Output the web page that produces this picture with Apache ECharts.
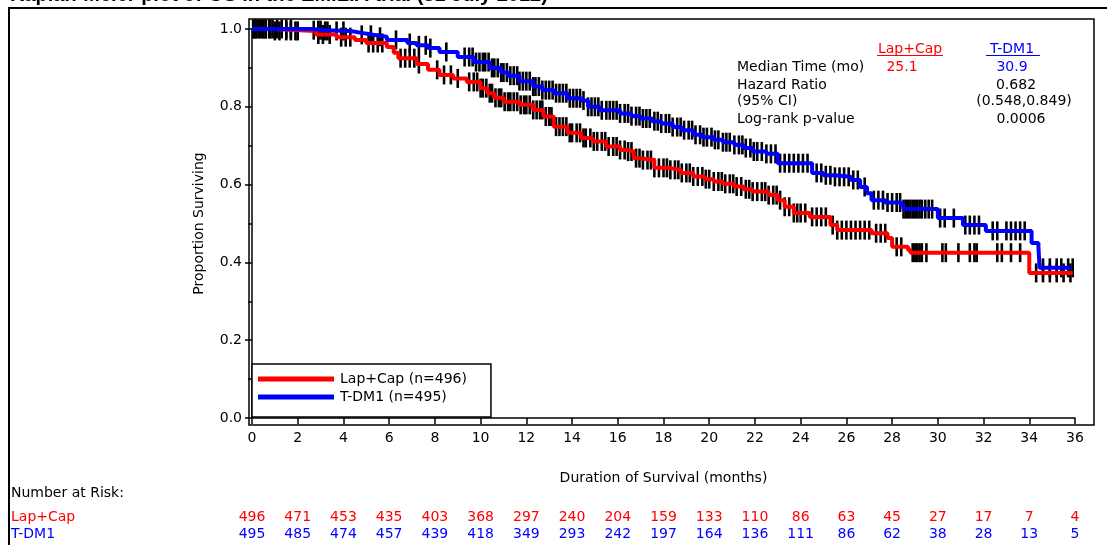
<!DOCTYPE html>
<html>
<head>
<meta charset="utf-8">
<script src="https://cdn.jsdelivr.net/npm/echarts/dist/echarts.min.js"></script>
<style>
html,body{margin:0;padding:0;background:#fff;}
#chart{width:1107px;height:545px;}
</style>
</head>
<body>
<div id="chart"></div>
<script>
// ---------- data ----------
const titleText = 'Kaplan-Meier plot of OS in the EMILIA trial (31 July 2012)';
const xTicks = [0,2,4,6,8,10,12,14,16,18,20,22,24,26,28,30,32,34,36];
const riskLapCap = [496,471,453,435,403,368,297,240,204,159,133,110,86,63,45,27,17,7,4];
const riskTDM1   = [495,485,474,457,439,418,349,293,242,197,164,136,111,86,62,38,28,13,5];

// Kaplan-Meier steps: [month, survival after the drop]
const lapCapSteps = [
 [0,1.0],[0.9,0.995],[2.8,0.986],[3.7,0.979],[4.5,0.972],[5.0,0.964],[5.9,0.954],[6.2,0.939],
 [6.4,0.925],[7.2,0.91],[7.7,0.895],[8.2,0.882],[8.8,0.873],[9.4,0.864],[10.0,0.848],[10.3,0.835],
 [10.6,0.823],[11.0,0.813],[11.7,0.805],[12.3,0.792],[12.75,0.775],[13.2,0.749],[13.8,0.733],
 [14.4,0.72],[14.9,0.711],[15.5,0.698],[16.1,0.689],[16.4,0.685],[16.7,0.668],[17.0,0.663],
 [17.6,0.643],[18.2,0.638],[18.75,0.63],[19.3,0.621],[19.8,0.614],[20.2,0.608],[20.6,0.602],
 [21.1,0.595],[21.5,0.588],[21.9,0.582],[22.6,0.573],[23.0,0.56],[23.3,0.543],[23.7,0.527],
 [24.4,0.517],[25.3,0.496],[25.6,0.483],[27.1,0.475],[27.8,0.463],[28.0,0.44],[28.7,0.432],
 [28.8,0.425],[34.0,0.373],[35.9,0.373]
];
const tdm1Steps = [
 [0,1.0],[2.6,0.997],[3.2,0.995],[4.3,0.99],[4.8,0.985],[5.3,0.98],[5.9,0.972],[6.8,0.964],
 [7.2,0.958],[7.7,0.951],[8.2,0.941],[9.0,0.928],[9.7,0.915],[10.4,0.9],[10.9,0.888],[11.2,0.88],
 [11.7,0.866],[12.3,0.852],[12.7,0.843],[13.2,0.835],[13.8,0.822],[14.4,0.816],[14.7,0.8],
 [15.2,0.791],[16.1,0.783],[16.6,0.776],[17.0,0.77],[17.5,0.763],[17.9,0.757],[18.4,0.748],
 [18.8,0.74],[19.3,0.728],[19.7,0.722],[20.2,0.715],[20.6,0.709],[21.1,0.702],[21.5,0.694],
 [21.9,0.685],[22.5,0.679],[23.0,0.655],[24.5,0.63],[25.0,0.624],[25.5,0.62],[26.2,0.612],
 [26.6,0.594],[26.9,0.578],[27.1,0.56],[27.7,0.554],[28.4,0.548],[28.5,0.537],[30.0,0.514],
 [31.1,0.496],[32.1,0.481],[34.1,0.45],[34.4,0.44],[34.45,0.386],[35.8,0.386]
];

// censoring times (months)
const lapCapCensor = [
 0.1,0.2,0.35,0.5,0.6,0.8,1.0,1.2,1.5,1.7,1.9,2.0,2.9,3.1,3.4,3.9,4.1,4.3,5.1,5.3,5.5,5.7,
 6.5,6.7,6.9,7.1,7.3,8.1,8.4,8.7,9.0,9.5,
 9.7,9.85,10.0,10.1,10.25,10.4,10.5,10.65,10.8,10.9,11.05,11.2,11.3,11.45,11.6,11.75,11.9,12.0,
 12.15,12.3,12.45,12.6,12.7,12.85,13.0,13.1,13.3,13.45,13.6,13.75,13.9,14.0,14.2,14.35,14.5,14.6,
 14.8,14.95,15.1,15.3,15.45,15.6,15.8,15.95,16.1,16.3,16.45,16.6,16.8,16.95,17.1,17.3,17.45,17.6,
 17.8,18.0,18.15,18.3,18.5,18.65,18.8,19.0,19.15,19.3,19.5,19.7,19.85,20.0,20.2,20.4,20.55,20.7,
 20.9,21.05,21.2,21.4,21.6,21.75,21.9,22.1,22.3,22.45,22.6,22.8,22.95,23.1,23.3,23.5,23.7,23.85,
 24.0,24.2,24.5,24.7,24.9,25.1,25.4,25.6,25.8,26.0,26.2,26.4,26.6,26.8,27.0,27.3,27.5,27.7,28.2,28.4,
 28.9,29.0,29.1,29.2,29.3,29.5,30.2,30.35,30.9,31.4,31.6,31.7,32.6,32.8,33.2,33.6,34.3,34.6,34.9,
 35.2,35.5,35.8
];
const tdm1Censor = [
 0.05,0.15,0.3,0.45,0.6,0.75,0.9,1.1,1.3,1.5,1.7,2.7,2.9,3.0,3.2,3.3,3.7,4.0,4.8,5.2,5.6,6.3,
 6.9,7.3,7.6,7.8,8.5,9.3,
 9.5,9.65,9.8,9.95,10.1,10.2,10.35,10.5,10.6,10.75,10.9,11.0,11.15,11.3,11.45,11.6,11.7,11.85,
 12.0,12.15,12.3,12.4,12.55,12.7,12.85,13.0,13.15,13.3,13.45,13.6,13.75,13.9,14.05,14.2,14.35,
 14.5,14.7,14.85,15.0,15.15,15.3,15.5,15.65,15.8,15.95,16.1,16.3,16.45,16.6,16.8,16.95,17.1,17.25,
 17.4,17.6,17.75,17.9,18.1,18.25,18.4,18.6,18.75,18.9,19.1,19.25,19.4,19.6,19.75,19.9,20.1,20.25,
 20.4,20.6,20.75,20.9,21.1,21.3,21.45,21.6,21.8,21.95,22.1,22.3,22.5,22.7,22.9,23.1,23.3,23.5,
 23.7,23.9,24.1,24.3,24.7,24.9,25.1,25.3,25.5,25.7,25.9,26.1,26.3,26.5,26.8,27.2,27.4,27.6,27.8,
 28.0,28.2,28.35,28.5,28.6,28.7,28.8,28.9,29.0,29.1,29.2,29.3,29.45,29.6,29.75,
 30.1,30.3,30.7,31.2,31.4,31.6,31.8,32.4,32.6,33.0,33.2,33.4,33.6,33.8,34.6,34.9,35.2,35.4,35.7,35.9
];

const seriesNames = ['Lap+Cap (n=496)', 'T-DM1 (n=495)'];
const RED = '#ff0000', BLUE = '#0000ff';
const FONT = 'DejaVu Sans';

// survival value of the step curve at a censoring time
function survAt(steps, t) {
  let s = steps[0][1];
  for (const p of steps) { if (p[0] <= t) s = p[1]; else break; }
  return s;
}
const lapCapCensorPts = lapCapCensor.map(t => [t, survAt(lapCapSteps, t)]);
const tdm1CensorPts = tdm1Censor.map(t => [t, survAt(tdm1Steps, t)]);

const chart = echarts.init(document.getElementById('chart'), null, {renderer: 'canvas'});

const baseText = {fontFamily: FONT, fontSize: 14, color: '#000'};
function riskAxis(arr, color, offset) {
  return {
    gridIndex: 0, type: 'value', min: 0, max: 36, interval: 2, position: 'bottom', offset: offset,
    axisLine: {show: false}, axisTick: {show: false}, splitLine: {show: false},
    axisLabel: {
      margin: 0, fontFamily: FONT, fontSize: 14, color: color,
      formatter: v => { const i = xTicks.indexOf(v); return i >= 0 ? String(arr[i]) : ''; }
    }
  };
}

function txt(x, y, text, color, align) {
  return {
    type: 'text', x: x, y: y, silent: true, z: 10,
    style: {text: text, fill: color || '#000', align: align || 'left', verticalAlign: 'middle',
            font: '14px "' + FONT + '"'}
  };
}

const censorStyle = {color: '#000', opacity: 1};

const option = {
  animation: false,
  backgroundColor: '#fff',
  grid: [
    {left: 252, right: 32, top: 29, bottom: 127, show: false, outerBoundsMode: 'none'},
    {left: 249, right: 13, top: 19, bottom: 120, show: true, borderColor: '#000', borderWidth: 1.5,
     backgroundColor: 'transparent', outerBoundsMode: 'none'}
  ],
  xAxis: [
    {
      gridIndex: 0, type: 'value', min: 0, max: 36, interval: 2, offset: 7,
      axisLine: {show: true, lineStyle: {color: '#000', width: 1.5}},
      axisTick: {show: true, length: 6, lineStyle: {color: '#000', width: 1.5}},
      splitLine: {show: false},
      axisLabel: {margin: 6, fontFamily: FONT, fontSize: 14, color: '#000'},
      name: 'Duration of Survival (months)', nameLocation: 'middle', nameGap: 46,
      nameTextStyle: baseText
    },
    riskAxis(riskLapCap, RED, 92),
    riskAxis(riskTDM1, BLUE, 109),
    {gridIndex: 1, type: 'value', min: 0, max: 1, show: false}
  ],
  yAxis: [
    {
      gridIndex: 0, type: 'value', min: 0, max: 1, interval: 0.2, offset: 3,
      axisLine: {show: true, lineStyle: {color: '#000', width: 1.5}},
      axisTick: {show: true, length: 7, lineStyle: {color: '#000', width: 1.5}},
      minorTick: {show: true, splitNumber: 2, length: 4, lineStyle: {color: '#000', width: 1.5}},
      splitLine: {show: false}, minorSplitLine: {show: false},
      axisLabel: {margin: 7, fontFamily: FONT, fontSize: 14, color: '#000', formatter: v => v.toFixed(1)},
      name: 'Proportion Surviving', nameLocation: 'middle', nameGap: 43, nameRotate: 90,
      nameTextStyle: baseText
    },
    {gridIndex: 1, type: 'value', min: 0, max: 1, show: false}
  ],
  legend: {
    data: seriesNames, orient: 'vertical', left: 252, top: 364,
    icon: 'rect', itemWidth: 76, itemHeight: 5, itemGap: 4,
    padding: [8, 24, 13, 6], borderColor: '#000', borderWidth: 1.5, backgroundColor: '#fff',
    selectedMode: false, textStyle: {fontFamily: FONT, fontSize: 14, color: '#000', padding: [0,0,0,1]}
  },
  series: [
    {
      name: 'censor-lapcap', type: 'scatter', xAxisIndex: 0, yAxisIndex: 0, data: lapCapCensorPts,
      symbol: 'rect', symbolSize: [2.6, 19], itemStyle: censorStyle, z: 2, silent: true
    },
    {
      name: 'censor-tdm1', type: 'scatter', xAxisIndex: 0, yAxisIndex: 0, data: tdm1CensorPts,
      symbol: 'rect', symbolSize: [2.6, 19], itemStyle: censorStyle, z: 2, silent: true
    },
    {
      name: seriesNames[0], type: 'line', step: 'end', data: lapCapSteps, xAxisIndex: 0, yAxisIndex: 0,
      showSymbol: false, symbol: 'none', lineStyle: {color: RED, width: 4}, itemStyle: {color: RED}, z: 3
    },
    {
      name: seriesNames[1], type: 'line', step: 'end', data: tdm1Steps, xAxisIndex: 0, yAxisIndex: 0,
      showSymbol: false, symbol: 'none', lineStyle: {color: BLUE, width: 4}, itemStyle: {color: BLUE}, z: 4
    }
  ],
  graphic: [
    {type: 'text', x: 10, y: 5, silent: true,
     style: {text: titleText, fill: '#000', align: 'left', verticalAlign: 'bottom', font: 'bold 20px "Liberation Sans"'}},
    {type: 'polyline', silent: true, shape: {points: [[1107, 8], [9, 8], [9, 545]]},
     style: {stroke: '#000', lineWidth: 2, fill: null}},
    // statistics block
    txt(910, 49, 'Lap+Cap', RED, 'center'),
    txt(1012, 49, 'T-DM1', BLUE, 'center'),
    {type: 'line', silent: true, shape: {x1: 877, y1: 55.5, x2: 943, y2: 55.5}, style: {stroke: RED, lineWidth: 1.2}},
    {type: 'line', silent: true, shape: {x1: 986, y1: 55.5, x2: 1040, y2: 55.5}, style: {stroke: BLUE, lineWidth: 1.2}},
    txt(737, 67.5, 'Median Time (mo)'),
    txt(902, 67.5, '25.1', RED, 'center'),
    txt(1012, 67.5, '30.9', BLUE, 'center'),
    txt(737, 85, 'Hazard Ratio'),
    txt(1016, 85, '0.682', '#000', 'center'),
    txt(737, 101.5, '(95% CI)'),
    txt(1024, 101.5, '(0.548,0.849)', '#000', 'center'),
    txt(737, 119, 'Log-rank p-value'),
    txt(1021, 119, '0.0006', '#000', 'center'),
    // number at risk labels
    txt(11, 493, 'Number at Risk:'),
    txt(11, 517, 'Lap+Cap', RED),
    txt(11, 534, 'T-DM1', BLUE)
  ]
};
chart.setOption(option);
</script>
</body>
</html>
